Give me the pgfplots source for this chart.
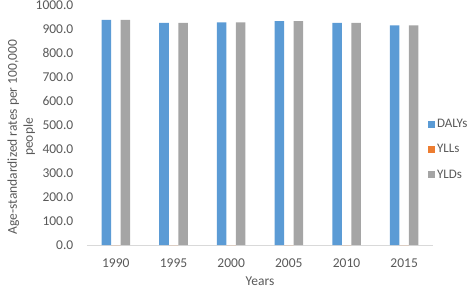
\documentclass[border=0pt]{standalone}
\usepackage{pgfplots}
\pgfplotsset{compat=1.18}
\usepackage{fontspec}
\setmainfont{Carlito}
\definecolor{cblue}{HTML}{5B9BD5}
\definecolor{corange}{HTML}{ED7D31}
\definecolor{cgray}{HTML}{A5A5A5}
\definecolor{ctext}{HTML}{595959}
\definecolor{caxis}{HTML}{D9D9D9}
\begin{document}
\fontsize{13.5}{16}\selectfont
\begin{tikzpicture}
\useasboundingbox (-87pt,-44pt) rectangle (386pt,245pt);
\begin{axis}[
  at={(0pt,0pt)}, anchor=south west,
  scale only axis, width=346pt, height=240pt,
  ybar=0pt, bar width=9.5pt,
  xmin=-0.5, xmax=5.5, ymin=0, ymax=1000,
  xtick=data, xticklabels={1990,1995,2000,2005,2010,2015},
  ytick={0,100,...,1000},
  major tick length=0pt,
  axis x line*=bottom, axis y line*=left,
  x axis line style={caxis, line width=0.8pt, -},
  y axis line style={draw=none},
  /pgf/number format/assume math mode=true,
  yticklabel={\pgfmathprintnumber[fixed,fixed zerofill,precision=1,1000 sep={}]{\tick}},
  yticklabel style={text=ctext, xshift=-9pt},
  xticklabel style={text=ctext, yshift=-9.5pt},
  scaled y ticks=false,
  ylabel={Age-standardized rates per 100,000\\people},
  ylabel style={align=center, text=ctext, at={(axis description cs:-0.19,0.45)}, anchor=center},
  xlabel={Years},
  xlabel style={text=ctext, at={(axis description cs:0.5,-0.152)}, anchor=center},
  legend style={at={(rel axis cs:0.985,0.398)}, anchor=west, draw=none, fill=none, text=ctext, row sep=11pt, inner xsep=0pt, font=\fontsize{13}{15}\selectfont},
  legend cell align=left,
  legend image code/.code={\fill[#1] (0pt,-3.5pt) rectangle (7pt,3.5pt);},
]
\addplot[fill=cblue, draw=none] coordinates {(0,937.5) (1,926) (2,928) (3,933) (4,926) (5,915)};
\addplot[fill=corange, draw=none] coordinates {(0,0) (1,0) (2,0) (3,0) (4,0) (5,0)};
\addplot[fill=cgray, draw=none] coordinates {(0,937.5) (1,926) (2,928) (3,933) (4,926) (5,915)};
\legend{DALYs,YLLs,YLDs}
\end{axis}
\end{tikzpicture}
\end{document}
